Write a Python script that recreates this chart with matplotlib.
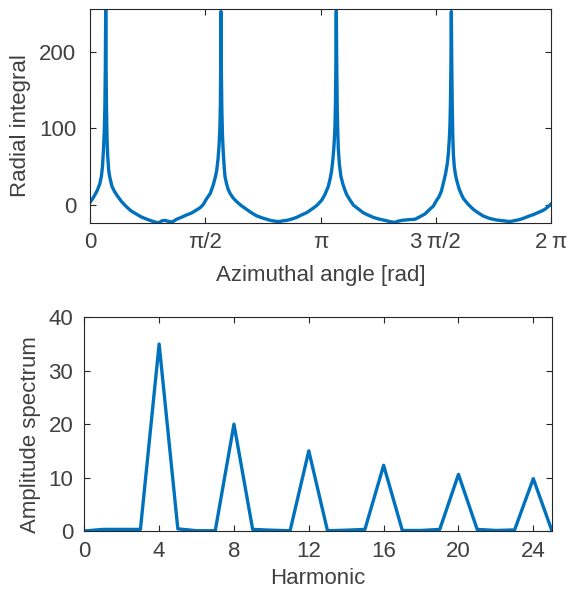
import numpy as np
import matplotlib
matplotlib.use("Agg")
import matplotlib.pyplot as plt

plt.rcParams['font.family'] = ['Liberation Sans', 'DejaVu Sans']

# --- Data: radial integral vs azimuthal angle (rad) ---
angle = [
    0.000, 0.030, 0.064, 0.100, 0.132, 0.155, 0.170, 0.186, 0.196, 0.203, 0.209, 0.214,
    0.219, 0.225, 0.232, 0.240, 0.255, 0.270, 0.282, 0.300, 0.336, 0.370, 0.400, 0.427,
    0.470, 0.518, 0.560, 0.610, 0.654, 0.700, 0.750, 0.790, 0.850, 0.900, 0.940, 0.980,
    1.018, 1.060, 1.100, 1.130, 1.180, 1.245, 1.300, 1.380, 1.450, 1.500, 1.545,
    1.590, 1.640, 1.680, 1.710, 1.727, 1.745, 1.758, 1.770, 1.777, 1.781, 1.785, 1.790,
    1.797, 1.806, 1.817, 1.830, 1.840, 1.860, 1.880, 1.908, 1.950, 2.000, 2.060, 2.135,
    2.200, 2.270, 2.340, 2.408, 2.460, 2.520, 2.580, 2.630, 2.680, 2.740, 2.817, 2.880,
    2.950, 3.020, 3.090,
    3.158, 3.200, 3.248, 3.275, 3.294, 3.313, 3.326, 3.338, 3.345, 3.351, 3.357, 3.363,
    3.370, 3.377, 3.385, 3.400, 3.420, 3.450, 3.475, 3.500, 3.545, 3.590, 3.650, 3.725,
    3.790, 3.860, 3.930, 3.998, 4.060, 4.110, 4.157, 4.200, 4.250, 4.293, 4.350, 4.430,
    4.500, 4.566, 4.630, 4.680,
    4.725, 4.757, 4.790, 4.815, 4.845, 4.870, 4.885, 4.897, 4.906, 4.913, 4.919, 4.925,
    4.931, 4.938, 4.945, 4.952, 4.965, 4.980, 4.998, 5.030, 5.060, 5.088, 5.150, 5.224,
    5.290, 5.360, 5.450, 5.543, 5.630, 5.724, 5.800, 5.850, 5.906, 5.980, 6.040, 6.088,
    6.150, 6.200, 6.250, 6.283,
]
radial = [
    3, 7, 12.5, 19, 27, 37, 50, 76, 100, 130, 180, 256,
    180, 125, 88, 66, 45, 36, 31, 24, 17, 12, 8, 4.5,
    0, -4.5, -8, -11, -13.5, -16, -18, -19.5, -21.5, -23, -23.5, -21,
    -20.5, -21.5, -22.5, -22, -19, -16.5, -14, -11, -7, -4, 0.5,
    8, 15, 26, 37, 45, 60, 76, 100, 130, 180, 253, 180,
    125, 90, 67, 48, 37, 28, 21, 15, 9, 4, -1, -6,
    -10.5, -14.5, -17, -19, -20.5, -21.5, -22, -21, -20.5, -19, -16.5, -13.5,
    -10.5, -6, -1,
    6, 13, 24, 35, 45, 62, 78, 100, 130, 180, 254, 180,
    125, 95, 72, 52, 37, 26, 19, 13, 6, -0.5, -5, -10.5,
    -13.5, -16.5, -18.5, -20, -21.5, -22.5, -23, -21.5, -20.5, -20, -19.5, -19,
    -15.5, -12, -6, -1.7,
    6, 10.5, 18, 28, 40, 54, 68, 85, 105, 135, 180, 253,
    180, 125, 90, 67, 50, 40, 32, 21, 14, 8.4, 1, -6,
    -10.5, -14.8, -18, -20, -21, -22, -20.5, -19.5, -17.8, -15, -13, -11,
    -8.5, -6, -2, 1,
]
angle_ticks = [0, np.pi / 2, np.pi, 3 * np.pi / 2, 2 * np.pi]
angle_ticklabels = ['0', 'π/2', 'π', '3\u2009π/2', '2\u2009π']
radial_ticks = [0, 100, 200]

# --- Data: amplitude spectrum vs harmonic ---
harmonic = list(range(26))
amplitude = [0, 0.3, 0.3, 0.3, 35, 0.4, 0.05, 0.05, 20, 0.3, 0.15, 0.05, 15,
             0.05, 0.15, 0.3, 12.3, 0.1, 0.1, 0.3, 10.6, 0.3, 0.1, 0.2, 9.8, 0]
harmonic_ticks = [0, 4, 8, 12, 16, 20, 24]
amplitude_ticks = [0, 10, 20, 30, 40]

blue = '#0072BD'
dark = '#262626'
txt = '#404040'
fs = 16

fig = plt.figure(figsize=(5.71, 5.92), dpi=100)
ax1 = fig.add_axes([90 / 571, 1 - 222.7 / 592, 461 / 571, 213.4 / 592])
ax2 = fig.add_axes([84.3 / 571, 1 - 531 / 592, 467.7 / 571, 213.7 / 592])


def style(ax, ypad):
    for s in ax.spines.values():
        s.set_color(dark)
        s.set_linewidth(0.8)
    ax.tick_params(direction='in', length=4, width=0.8, colors=dark,
                   labelsize=fs, top=True, right=True)
    ax.tick_params(axis='x', pad=7)
    ax.tick_params(axis='y', pad=ypad)
    for lab in ax.get_xticklabels() + ax.get_yticklabels():
        lab.set_color(txt)


ax1.plot(angle, radial, color=blue, lw=2.4)
ax1.set_xlim(0, 2 * np.pi)
ax1.set_ylim(-23.5, 256)
ax1.set_xticks(angle_ticks)
ax1.set_xticklabels(angle_ticklabels)
ax1.set_yticks(radial_ticks)
style(ax1, 10)
ax1.set_xlabel('Azimuthal angle [rad]', fontsize=fs, color=txt)
ax1.set_ylabel('Radial integral', fontsize=fs, color=txt)
ax1.xaxis.set_label_coords(0.5, -(275 - 222.7) / 213.4, transform=ax1.transAxes)
ax1.yaxis.set_label_coords(-(90 - 20.5) / 461, (222.7 - 126) / 213.4, transform=ax1.transAxes)
ax1.xaxis.label.set_va('center')
ax1.yaxis.label.set_va('center')

ax2.plot(harmonic, amplitude, color=blue, lw=2.4)
ax2.set_xlim(0, 25)
ax2.set_ylim(0, 40)
ax2.set_xticks(harmonic_ticks)
ax2.set_yticks(amplitude_ticks)
style(ax2, 8)
ax2.set_xlabel('Harmonic', fontsize=fs, color=txt)
ax2.set_ylabel('Amplitude spectrum', fontsize=fs, color=txt)
ax2.xaxis.set_label_coords(0.5, -(578 - 531) / 213.7, transform=ax2.transAxes)
ax2.yaxis.set_label_coords(-(84.3 - 30.5) / 467.7, (531 - 435) / 213.7, transform=ax2.transAxes)
ax2.xaxis.label.set_va('center')
ax2.yaxis.label.set_va('center')

fig.savefig('out.png', dpi=100)
